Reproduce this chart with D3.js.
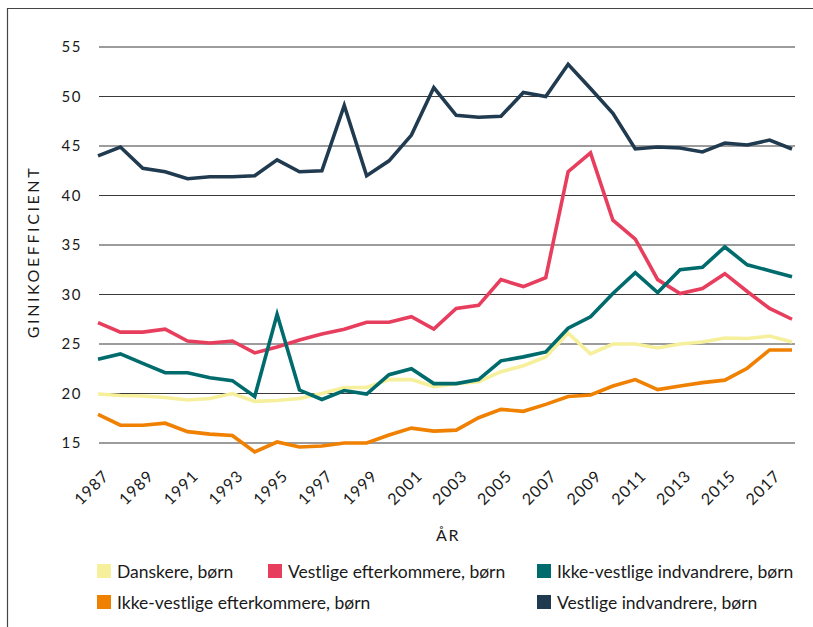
<!DOCTYPE html>
<html>
<head>
<meta charset="utf-8">
<script src="https://cdn.jsdelivr.net/npm/d3@7"></script>
<style>
  body { margin: 0; background: #fff; }
  text { font-family: Lato, "Open Sans", sans-serif; fill: #1a1a1a; }
</style>
</head>
<body>
<svg id="chart" width="813" height="627"></svg>
<script>
var years = d3.range(1987, 2019);
var yTicks = [15, 20, 25, 30, 35, 40, 45, 50, 55];

var danskere = [19.95, 19.8, 19.75, 19.6, 19.35, 19.5, 20.0, 19.2, 19.3, 19.5, 20.0, 20.6, 20.6, 21.4, 21.4, 20.7,
                21.0, 21.2, 22.2, 22.8, 23.7, 26.1, 24.0, 25.0, 25.0, 24.6, 25.0, 25.2, 25.6, 25.55, 25.8, 25.2];
var vestligeEfter = [27.15, 26.2, 26.2, 26.5, 25.3, 25.1, 25.3, 24.1, 24.7, 25.4, 26.0, 26.5, 27.2, 27.2, 27.75, 26.5,
                     28.6, 28.9, 31.5, 30.8, 31.7, 42.4, 44.3, 37.5, 35.6, 31.5, 30.1, 30.6, 32.1, 30.3, 28.6, 27.5];
var ikkeVestligeIndv = [23.45, 24.0, 23.05, 22.1, 22.1, 21.6, 21.3, 19.7, 28.0, 20.35, 19.4, 20.3, 19.95, 21.9, 22.5, 21.0,
                        21.0, 21.4, 23.3, 23.7, 24.2, 26.6, 27.75, 30.1, 32.2, 30.2, 32.5, 32.75, 34.8, 33.0, 32.4, 31.8];
var ikkeVestligeEfter = [17.9, 16.8, 16.8, 17.0, 16.15, 15.9, 15.75, 14.1, 15.1, 14.6, 14.7, 15.0, 15.0, 15.8, 16.5, 16.2,
                         16.3, 17.55, 18.4, 18.2, 18.9, 19.7, 19.85, 20.75, 21.4, 20.4, 20.75, 21.1, 21.35, 22.55, 24.4, 24.4];
var vestligeIndv = [44.0, 44.9, 42.75, 42.4, 41.7, 41.9, 41.9, 42.0, 43.6, 42.4, 42.5, 49.1, 42.0, 43.5, 46.1, 50.9,
                    48.1, 47.9, 48.0, 50.4, 50.0, 53.25, 50.8, 48.3, 44.7, 44.9, 44.8, 44.4, 45.3, 45.1, 45.6, 44.7];

var seriesNames = ["Danskere, børn", "Vestlige efterkommere, børn", "Ikke-vestlige indvandrere, børn",
                   "Ikke-vestlige efterkommere, børn", "Vestlige indvandrere, børn"];
var seriesValues = [danskere, vestligeEfter, ikkeVestligeIndv, ikkeVestligeEfter, vestligeIndv];
var seriesColors = ["#f6f09c", "#e83e5e", "#006b6c", "#ef8000", "#203a4f"];

var svg = d3.select("#chart");

// frame (left + top only visible)
svg.append("path")
   .attr("d", "M7.5,627 V8.5 H813")
   .attr("fill", "none")
   .attr("stroke", "#444")
   .attr("stroke-width", 1.2);

var x = d3.scaleLinear().domain([1987, 2018]).range([98, 792]);
var y = d3.scaleLinear().domain([15, 55]).range([443, 47]);

// grid
svg.append("g")
   .selectAll("line")
   .data(yTicks)
   .join("line")
     .attr("x1", 99)
     .attr("x2", 795)
     .attr("y1", d => y(d))
     .attr("y2", d => y(d))
     .attr("stroke", "#3a3a3a")
     .attr("stroke-width", 1.1);

svg.append("g")
   .selectAll("text")
   .data(yTicks)
   .join("text")
     .attr("x", 82)
     .attr("y", d => y(d) + 5)
     .attr("text-anchor", "end")
     .attr("font-size", 15)
     .attr("letter-spacing", "1.5px")
     .text(d => d);

// x tick labels
svg.append("g")
   .selectAll("text")
   .data(years.filter(d => d % 2 === 1))
   .join("text")
     .attr("transform", d => "translate(" + (x(d) + 12) + ",477) rotate(-45)")
     .attr("text-anchor", "end")
     .attr("font-size", 16)
     .attr("letter-spacing", "1px")
     .text(d => d);

svg.append("text")
   .attr("x", 448)
   .attr("y", 541)
   .attr("text-anchor", "middle")
   .attr("font-size", 16)
   .attr("letter-spacing", "1.5px")
   .text("ÅR");

svg.append("text")
   .attr("transform", "translate(39,252) rotate(-90)")
   .attr("text-anchor", "middle")
   .attr("font-size", 16)
   .attr("letter-spacing", "2.6px")
   .text("GINIKOEFFICIENT");

// lines
var line = d3.line()
             .x((d, i) => x(years[i]))
             .y(d => y(d));

svg.append("g")
   .selectAll("path")
   .data(seriesValues)
   .join("path")
     .attr("fill", "none")
     .attr("stroke", (d, i) => seriesColors[i])
     .attr("stroke-width", 3.6)
     .attr("stroke-linejoin", "miter")
     .attr("d", line);

// legend
var legendPos = [[97, 578], [268, 578], [537, 578], [97, 609], [537, 609]];
var legend = svg.append("g")
                .selectAll("g")
                .data(seriesNames)
                .join("g")
                  .attr("transform", (d, i) => "translate(" + legendPos[i][0] + "," + legendPos[i][1] + ")");

legend.append("rect")
      .attr("x", 0)
      .attr("y", -14)
      .attr("width", 14)
      .attr("height", 14)
      .attr("fill", (d, i) => seriesColors[i]);

legend.append("text")
      .attr("x", 20)
      .attr("y", 0)
      .attr("font-size", 17.5)
      .text(d => d);
</script>
</body>
</html>
